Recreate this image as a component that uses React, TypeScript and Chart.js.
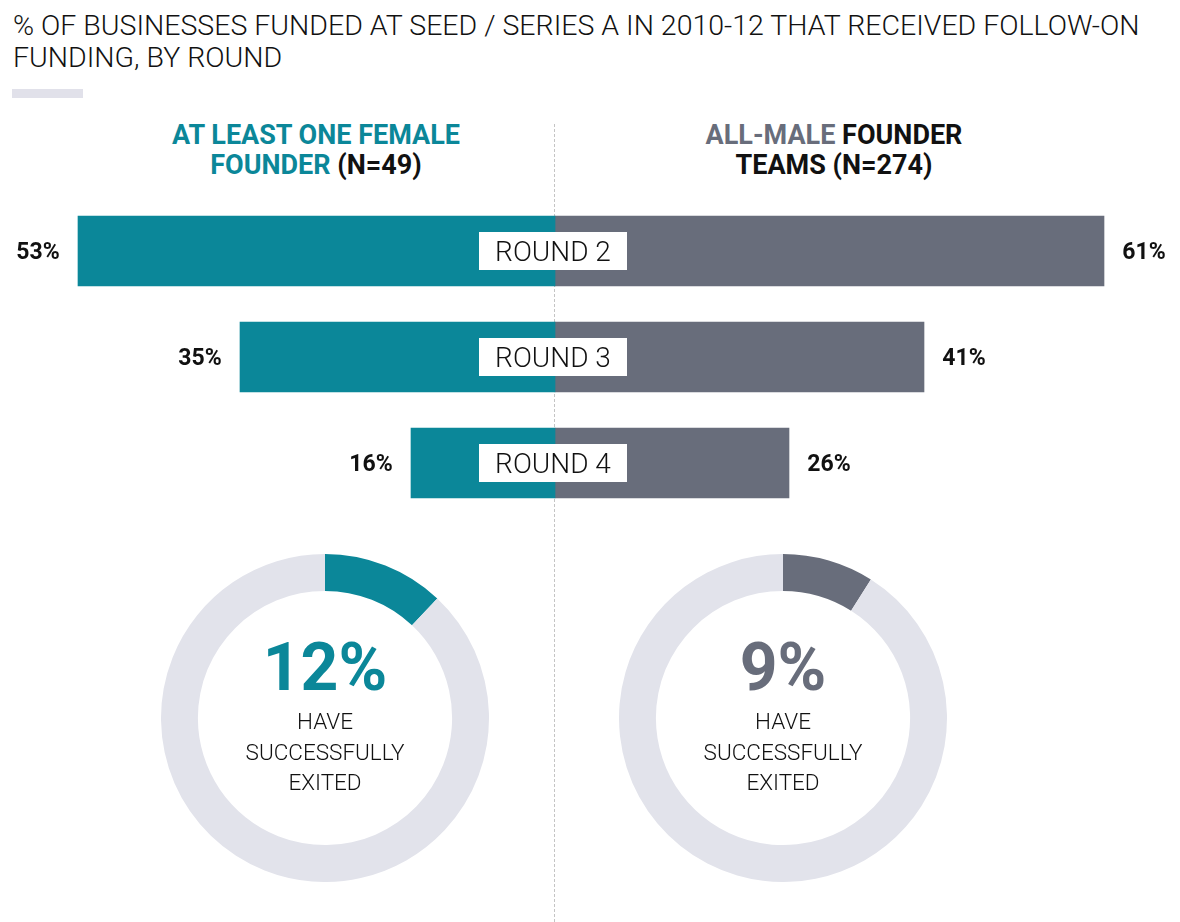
import { useEffect, useRef } from "react";
import { Chart, registerables } from "chart.js";

Chart.register(...registerables);

const rounds = ["ROUND 2", "ROUND 3", "ROUND 4"];
const femaleShare = [53, 35, 16];
const maleShare = [61, 41, 26];
const femaleExited = 12;
const maleExited = 9;

const TEAL = "#0b8799";
const SLATE = "#686d7b";
const TRACK = "#e2e3eb";
const FONT = "Roboto, 'Open Sans', sans-serif";

const barLabels = {
  id: "barLabels",
  afterDatasetsDraw(chart: Chart) {
    const ctx = chart.ctx;
    const x0 = chart.scales.x.getPixelForValue(0);
    const left = chart.getDatasetMeta(0).data;
    const right = chart.getDatasetMeta(1).data;
    ctx.save();
    ctx.textBaseline = "middle";
    ctx.textAlign = "center";
    rounds.forEach((name, i) => {
      const l: any = left[i];
      const r: any = right[i];
      ctx.font = `700 23px ${FONT}`;
      ctx.fillStyle = "#111";
      ctx.fillText(`${femaleShare[i]}%`, l.x - 40, l.y + 2);
      ctx.fillText(`${maleShare[i]}%`, r.x + 40, r.y + 2);

      // white label box across the centre line
      ctx.fillStyle = "#fff";
      ctx.fillRect(x0 - 76, l.y - 19, 148, 38);
      ctx.font = `300 28px ${FONT}`;
      ctx.fillStyle = "#111";
      ctx.fillText(name, x0 - 2, l.y + 3);
    });
    ctx.restore();
  },
};

function RoundBars() {
  const canvasRef = useRef<HTMLCanvasElement>(null);
  const chartRef = useRef<Chart | null>(null);

  useEffect(() => {
    if (!canvasRef.current) return;
    if (chartRef.current) chartRef.current.destroy();

    chartRef.current = new Chart(canvasRef.current, {
      type: "bar",
      data: {
        labels: rounds,
        datasets: [
          {
            label: "At least one female founder",
            data: femaleShare.map(v => -v),
            backgroundColor: TEAL,
            borderWidth: 0,
            barThickness: 70,
          },
          {
            label: "All-male founder teams",
            data: maleShare,
            backgroundColor: SLATE,
            borderWidth: 0,
            barThickness: 70,
          },
        ],
      },
      options: {
        indexAxis: "y",
        animation: false,
        responsive: false,
        maintainAspectRatio: false,
        layout: { padding: { left: 15, right: 40, top: 8, bottom: 4 } },
        scales: {
          x: { stacked: true, min: -60, max: 65, display: false },
          y: { stacked: true, display: false },
        },
        plugins: {
          legend: { display: false },
          tooltip: { enabled: false },
        },
      },
      plugins: [barLabels],
    });

    return () => {
      if (chartRef.current) {
        chartRef.current.destroy();
        chartRef.current = null;
      }
    };
  }, []);

  return (
    <canvas
      ref={canvasRef}
      width={1180}
      height={330}
      style={{ position: "absolute", left: 0, top: 190, width: 1180, height: 330 }}
    />
  );
}

type RingProps = { value: number; color: string; cx: number; cy: number };

function ExitRing({ value, color, cx, cy }: RingProps) {
  const canvasRef = useRef<HTMLCanvasElement>(null);
  const chartRef = useRef<Chart | null>(null);
  const size = 328;

  useEffect(() => {
    if (!canvasRef.current) return;
    if (chartRef.current) chartRef.current.destroy();

    chartRef.current = new Chart(canvasRef.current, {
      type: "doughnut",
      data: {
        labels: ["Exited", "Other"],
        datasets: [
          {
            data: [value, 100 - value],
            backgroundColor: [color, TRACK],
            borderWidth: 0,
          },
        ],
      },
      options: {
        animation: false,
        responsive: false,
        cutout: "77.5%",
        plugins: {
          legend: { display: false },
          tooltip: { enabled: false },
        },
      },
    });

    return () => {
      if (chartRef.current) {
        chartRef.current.destroy();
        chartRef.current = null;
      }
    };
  }, [value, color]);

  const line = { fontFamily: FONT, fontWeight: 300, fontSize: 22.5, color: "#111", lineHeight: "30.5px" };

  return (
    <>
      <canvas
        ref={canvasRef}
        width={size}
        height={size}
        style={{ position: "absolute", left: cx - size / 2, top: cy - size / 2, width: size, height: size }}
      />
      <div
        style={{
          position: "absolute",
          left: cx - 120,
          width: 240,
          top: cy - 88,
          textAlign: "center",
        }}
      >
        <div style={{ fontFamily: FONT, fontWeight: 700, fontSize: 66, color, lineHeight: "76px" }}>
          {value}%
        </div>
        <div style={line}>HAVE</div>
        <div style={line}>SUCCESSFULLY</div>
        <div style={line}>EXITED</div>
      </div>
    </>
  );
}

export default function App() {
  const head = { fontFamily: FONT, fontWeight: 700, fontSize: 27, lineHeight: "30px", color: "#111" };

  return (
    <div
      style={{
        position: "absolute",
        left: 0,
        top: 0,
        width: 1180,
        height: 922,
        background: "#fff",
        overflow: "hidden",
      }}
    >
      <div
        style={{
          position: "absolute",
          left: 13,
          top: 10,
          fontFamily: FONT,
          fontWeight: 300,
          fontSize: 28.5,
          lineHeight: "32px",
          color: "#111",
          whiteSpace: "nowrap",
        }}
      >
        % OF BUSINESSES FUNDED AT SEED / SERIES A IN 2010-12 THAT RECEIVED FOLLOW-ON
        <br />
        FUNDING, BY ROUND
      </div>
      <div style={{ position: "absolute", left: 12, top: 89, width: 71, height: 9, background: "#e1e1ea" }} />

      <div
        style={{
          position: "absolute",
          left: 554,
          top: 124,
          height: 798,
          borderLeft: "1px dashed #c4c4c4",
        }}
      />

      <div style={{ position: "absolute", left: 116, width: 400, top: 120, textAlign: "center" }}>
        <div style={{ ...head, color: TEAL }}>AT LEAST ONE FEMALE</div>
        <div style={head}>
          <span style={{ color: TEAL }}>FOUNDER</span> (N=49)
        </div>
      </div>
      <div style={{ position: "absolute", left: 634, width: 400, top: 120, textAlign: "center" }}>
        <div style={head}>
          <span style={{ color: SLATE }}>ALL-MALE</span> FOUNDER
        </div>
        <div style={head}>TEAMS (N=274)</div>
      </div>

      <RoundBars />

      <ExitRing value={femaleExited} color={TEAL} cx={325} cy={718} />
      <ExitRing value={maleExited} color={SLATE} cx={783} cy={718} />
    </div>
  );
}
